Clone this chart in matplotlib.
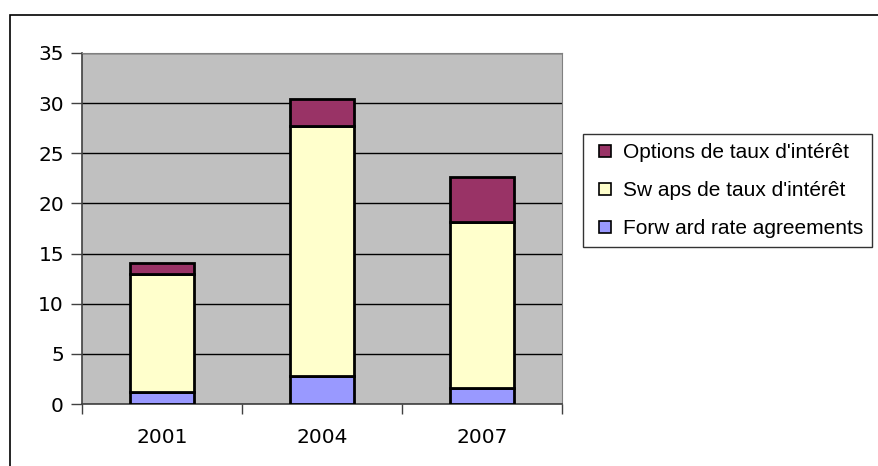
import matplotlib.pyplot as plt
from matplotlib.patches import Rectangle
from matplotlib.lines import Line2D
import numpy as np

plt.rcParams['font.family'] = ['Liberation Sans', 'DejaVu Sans']

#------------------------------------------------------------------------------
years = ['2001', '2004', '2007']
fra = [1.2, 2.8, 1.6]        # Forward rate agreements
swaps = [11.8, 24.9, 16.5]   # Swaps de taux d'intérêt
options = [1.1, 2.7, 4.5]    # Options de taux d'intérêt
#------------------------------------------------------------------------------

W, H = 879, 466
fig = plt.figure(figsize=(W / 100, H / 100), dpi=100)

# outer chart border (runs off the right and bottom edges)
fig.patches.append(Rectangle((10 / W, -0.05), 1.1, 1 - 15 / H + 0.05,
                             transform=fig.transFigure, fill=False,
                             edgecolor='black', linewidth=1.2))

ax = fig.add_axes([82 / W, (H - 404) / H, 480 / W, 351 / H])
ax.set_facecolor('#C0C0C0')

x = np.arange(len(years))
fra = np.array(fra)
swaps = np.array(swaps)
options = np.array(options)

kw = dict(width=0.4, edgecolor='black', linewidth=2, zorder=3)
ax.bar(x, fra, color='#9999FF', **kw)
ax.bar(x, swaps, bottom=fra, color='#FFFFCC', **kw)
ax.bar(x, options, bottom=fra + swaps, color='#993366', **kw)

ax.set_xlim(-0.5, 2.5)
ax.set_ylim(0, 35)
ax.set_yticks(np.arange(0, 36, 5))
ax.yaxis.grid(True, color='black', linewidth=1)
ax.set_axisbelow(True)

# category labels centred, ticks at category boundaries
ax.set_xticks(x)
ax.set_xticklabels(years)
ax.set_xticks(np.arange(-0.5, 3, 1), minor=True)
ax.tick_params(axis='x', which='major', length=0, pad=17)
ax.tick_params(axis='x', which='minor', direction='out', length=7, width=1, color='#404040')
ax.tick_params(axis='y', direction='out', length=8, width=1, color='#404040', pad=5)
for lab in ax.get_xticklabels() + ax.get_yticklabels():
    lab.set_family('DejaVu Sans')
    lab.set_fontsize(14.5)

for s in ['top', 'right']:
    ax.spines[s].set_color('#808080')
for s in ['left', 'bottom']:
    ax.spines[s].set_color('#404040')
    ax.spines[s].set_linewidth(1.2)

#--------------legend-------------------------------------------------------
def sq(c):
    return Line2D([], [], linestyle='none', marker='s', markersize=8.5,
                  markerfacecolor=c, markeredgecolor='black', markeredgewidth=1.2)

handles = [sq('#993366'), sq('#FFFFCC'), sq('#9999FF')]
labels = ["Options de taux d'intérêt", "Sw aps de taux d'intérêt", "Forw ard rate agreements"]
leg = fig.legend(handles, labels, loc='upper left',
                 bbox_to_anchor=(583 / W, 1 - 134 / H), borderaxespad=0,
                 fontsize=15, frameon=True, fancybox=False, edgecolor='black',
                 handlelength=1.25, handletextpad=0.2,
                 labelspacing=0.9, borderpad=0.45)
leg.get_frame().set_linewidth(1)

fig.savefig('out.png', dpi=100)
